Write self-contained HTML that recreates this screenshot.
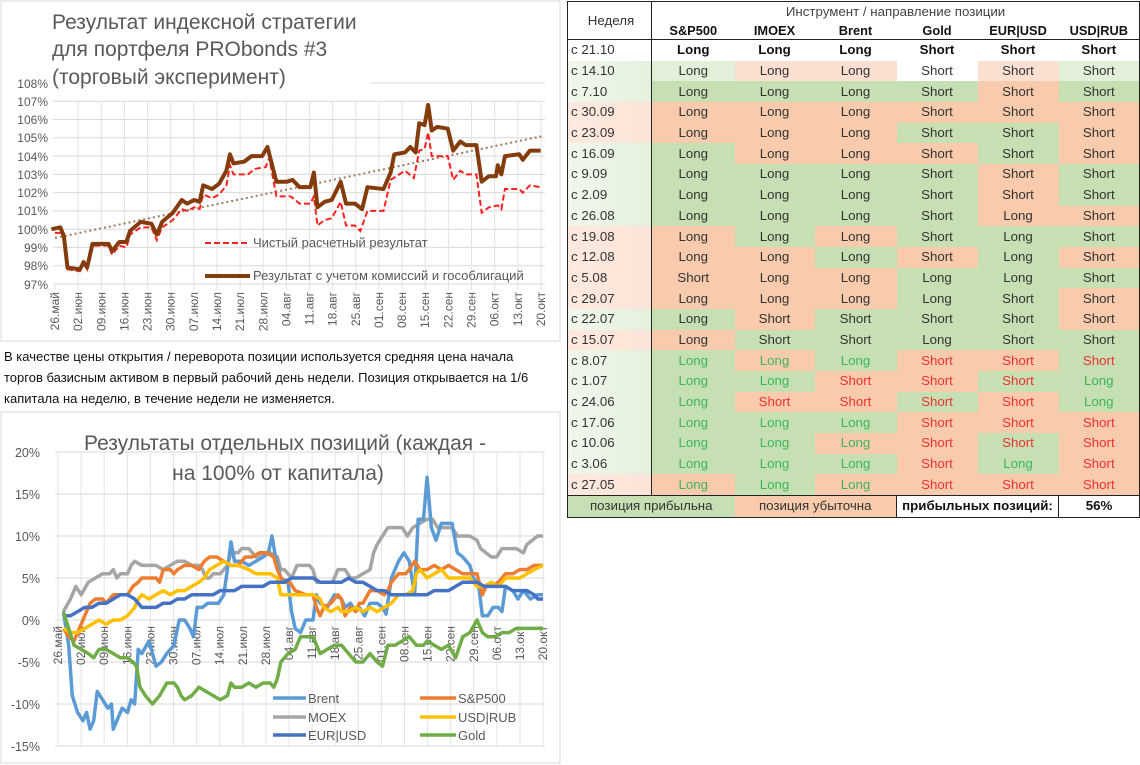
<!DOCTYPE html>
<html><head><meta charset="utf-8">
<style>
body{margin:0;background:#fff;width:1140px;height:765px;overflow:hidden;position:relative;font-family:"Liberation Sans","DejaVu Sans",sans-serif;}
svg{position:absolute;left:0;top:0}
.p{position:absolute;left:4px;font-size:13px;color:#111;line-height:21px;top:346px;width:540px}
table{position:absolute;left:567px;top:1px;border-collapse:collapse;font-size:13.3px;color:#333;width:572px;table-layout:fixed}
td{height:20.7px;padding:0;text-align:center;line-height:18px}
td.w{text-align:left;padding-left:3px;border-left:1.5px solid #222;border-right:1.5px solid #222}
.G{background:#c6e0b4}.R{background:#f8cbad}.g{background:#e2efd9}.r{background:#fbe0d2}
.tg{color:#3cb65a}.tr{color:#f03030}
th{font-weight:bold;font-size:12.8px;padding:0;height:18px;color:#111}
</style></head><body>
<svg width="1140" height="765" xmlns="http://www.w3.org/2000/svg" font-family="Liberation Sans, sans-serif">
<rect x="1" y="1" width="559" height="340" fill="none" stroke="#d9d9d9"/>
<rect x="1" y="412" width="559" height="351" fill="none" stroke="#d9d9d9"/>
<g stroke="#d9d9d9" stroke-width="1">
<line x1="371" y1="83" x2="545" y2="83"/>
<line x1="53" y1="101.3" x2="545" y2="101.3"/><line x1="53" y1="119.5" x2="545" y2="119.5"/>
<line x1="53" y1="137.8" x2="545" y2="137.8"/><line x1="53" y1="156.1" x2="545" y2="156.1"/>
<line x1="53" y1="174.4" x2="545" y2="174.4"/><line x1="53" y1="192.6" x2="545" y2="192.6"/>
<line x1="53" y1="210.9" x2="545" y2="210.9"/><line x1="53" y1="229.2" x2="545" y2="229.2"/>
<line x1="53" y1="247.4" x2="545" y2="247.4"/><line x1="53" y1="265.7" x2="545" y2="265.7"/>
<line x1="53" y1="284" x2="545" y2="284"/>
</g>
<g stroke="#e3e3e3" id="vg1"></g>
<g font-size="21" fill="#595959">
<text x="52" y="29">Результат индексной стратегии</text>
<text x="52" y="56">для портфеля PRObonds #3</text>
<text x="52" y="84">(торговый эксперимент)</text>
</g>
<g font-size="12" fill="#595959" text-anchor="end">
<text x="48" y="88">108%</text><text x="48" y="106">107%</text><text x="48" y="124">106%</text><text x="48" y="142">105%</text><text x="48" y="161">104%</text><text x="48" y="179">103%</text><text x="48" y="197">102%</text><text x="48" y="215">101%</text><text x="48" y="234">100%</text><text x="48" y="252">99%</text><text x="48" y="270">98%</text><text x="48" y="289">97%</text>
</g>
<g id="xl1" font-size="12" fill="#595959" text-anchor="end"></g>
<line x1="55" y1="238" x2="543" y2="136" stroke="#a0785a" stroke-width="2" stroke-dasharray="2,3"/>
<g transform="translate(-2.14,2056.2) scale(0.3571,-18.27)" fill="none">
<polyline vector-effect="non-scaling-stroke" stroke="#ff2020" stroke-width="2" stroke-dasharray="6,3" points="160,99.8 185,99.8 195,97.8 230,97.7 240,98.1 250,97.8 265,99.1 310,99.1 320,98.6 340,99.1 360,99.0 370,99.7 400,100.1 430,100.1 445,99.4 460,100.1 490,100.5 515,101.1 530,101.0 550,101.2 565,101.1 575,101.9 600,101.7 620,101.9 640,102.4 650,103.5 660,103.0 700,103.0 720,103.3 750,103.4 760,103.9 780,101.8 820,101.8 845,101.4 875,101.4 885,101.8 895,100.2 915,100.5 935,100.6 960,101.5 975,100.2 1000,100.2 1015,99.9 1035,101.0 1080,101.0 1100,102.7 1140,103.2 1165,102.8 1180,104.3 1195,104.4 1205,105.3 1215,104.0 1260,104.0 1275,102.7 1295,103.2 1310,103.0 1340,103.0 1355,100.9 1375,101.2 1400,101.3 1410,101.1 1420,102.2 1460,102.2 1470,102.0 1490,102.4 1520,102.3"/>
<polyline vector-effect="non-scaling-stroke" stroke="#843c0c" stroke-width="4" stroke-linejoin="round" points="150,100.0 175,100.1 185,99.6 195,97.9 230,97.8 240,98.2 250,97.9 265,99.2 310,99.2 320,98.8 340,99.3 360,99.3 370,99.9 400,100.4 430,100.3 445,99.7 460,100.4 490,100.9 515,101.6 530,101.4 550,101.6 565,101.5 575,102.4 600,102.2 620,102.5 640,103.2 650,104.1 660,103.6 690,103.7 710,104.0 740,104.0 755,104.5 780,102.6 810,102.6 825,102.7 845,102.3 875,102.3 885,103.1 895,101.2 915,101.5 935,101.6 960,102.6 975,101.4 1000,101.4 1020,101.1 1035,102.3 1080,102.2 1100,103.1 1110,104.1 1140,104.2 1155,104.5 1170,104.2 1180,105.8 1195,105.7 1205,106.8 1215,105.4 1230,105.6 1260,105.5 1275,104.3 1295,104.8 1310,104.6 1340,104.6 1355,102.6 1375,102.9 1395,102.9 1400,103.5 1410,103.0 1420,104.0 1460,104.1 1470,103.8 1490,104.3 1520,104.3"/>
</g>
<line x1="205" y1="243" x2="250" y2="243" stroke="#ff2020" stroke-width="2" stroke-dasharray="6,3"/>
<text x="253" y="247" font-size="13" fill="#595959">Чистый расчетный результат</text>
<line x1="205" y1="276" x2="250" y2="276" stroke="#843c0c" stroke-width="4"/>
<text x="253" y="280" font-size="13" fill="#595959">Результат с учетом комиссий и гособлигаций</text>

<g stroke="#d9d9d9">
<line x1="55" y1="452" x2="545" y2="452"/><line x1="55" y1="494" x2="545" y2="494"/><line x1="55" y1="536" x2="545" y2="536"/><line x1="55" y1="578" x2="545" y2="578"/><line x1="55" y1="620" x2="545" y2="620"/><line x1="55" y1="662" x2="545" y2="662"/><line x1="55" y1="704" x2="545" y2="704"/><line x1="55" y1="746" x2="545" y2="746"/>
</g>
<g stroke="#e3e3e3" id="vg2"></g>
<g font-size="21" fill="#595959" text-anchor="middle">
<text x="285" y="450">Результаты отдельных позиций (каждая -</text>
<text x="278" y="480">на 100% от капитала)</text>
</g>
<g font-size="12.5" fill="#595959" text-anchor="end">
<text x="40" y="457">20%</text><text x="40" y="499">15%</text><text x="40" y="541">10%</text><text x="40" y="583">5%</text><text x="40" y="625">0%</text><text x="40" y="667">-5%</text><text x="40" y="709">-10%</text><text x="40" y="751">-15%</text>
</g>
<g id="xl2" font-size="12" fill="#595959" text-anchor="end"></g>
<g transform="translate(-0.84,620) scale(0.3566,-8.4)" fill="none" stroke-width="3.5" stroke-linejoin="round">
<polyline vector-effect="non-scaling-stroke" stroke="#a5a5a5" points="180,1 200,2.5 215,4 230,3 250,4.5 270,5 290,5.5 310,5.5 320,6 330,5 340,5.5 360,5.5 370,6.5 380,7 400,6.5 420,6.5 440,6.5 460,6 480,6.5 500,7 520,7 540,6.5 560,6.5 570,6 580,5 590,5 600,5.5 620,5.5 640,6.5 650,8 670,8 680,8.5 700,8.5 710,8 720,7.5 740,8 760,8 780,7.5 790,6 800,6 810,5.5 820,5 835,6.5 850,6.5 870,6.5 880,6 890,4.5 900,4.5 920,4.5 935,4.5 950,6 970,6 985,5 1000,5 1020,5.5 1040,6 1050,8 1060,9 1075,10 1090,11 1110,11 1130,11 1145,10 1160,11 1180,11.5 1200,12 1215,12 1230,11 1250,11 1270,11 1285,10 1300,10 1320,10 1340,9.5 1350,8.5 1365,8 1380,7.5 1395,7.5 1410,8.5 1430,8.5 1450,8.5 1470,8 1480,9 1495,9.5 1510,10 1525,10"/>
<polyline vector-effect="non-scaling-stroke" stroke="#5b9bd5" points="180,1 195,-3 205,-9 220,-11 235,-12 245,-11 255,-13 265,-12 275,-8.5 290,-9.5 305,-10.5 315,-10 320,-13 335,-11.5 345,-10.5 360,-11 370,-9.5 380,-10 390,-3.5 400,-4 420,-2.5 440,-5.5 455,-5 470,-4 490,-3 505,0 520,0 535,-1 545,-2 555,1.5 570,1.5 585,2 615,2 630,3 640,6 650,9.3 660,7 680,7 700,6.5 720,7 740,7.5 755,8 765,10 775,7.5 790,5 810,4.5 820,1 830,-1 845,-1.5 860,0 880,0 890,3 900,2 920,1.5 940,3 960,2.5 970,1.5 985,2 1000,1 1010,1.5 1025,0.5 1040,2 1060,2 1075,1.5 1085,0.7 1100,5 1120,7 1135,8 1150,7 1165,3 1175,12 1190,12 1200,17 1212,11 1225,9.5 1240,11.5 1270,11.5 1285,8 1300,7.5 1320,6.5 1330,5 1345,4 1355,0.5 1370,0.5 1385,1.5 1400,1.5 1410,1 1420,4 1440,3.5 1455,2.5 1470,3.5 1490,2.5 1510,3 1525,3"/>
<polyline vector-effect="non-scaling-stroke" stroke="#ed7d31" points="180,-1 195,-2 210,-2.5 225,-1 240,0.5 255,2 270,2.5 290,2.5 300,2 320,3 360,3 375,4 390,4.5 400,5 440,5 450,4.5 460,6 480,6 490,5.5 500,6 520,6.5 540,6.5 560,6 575,7 590,7.5 610,7.5 630,7 650,6.5 670,6.5 690,7.5 710,7.5 730,8 750,8 770,7.5 780,6 790,5 800,4.5 815,4.5 830,3.5 860,3 880,3 890,1.5 900,0.5 910,1.5 930,2 950,3 960,2.5 970,0.5 985,1.5 1000,1 1010,2 1020,2 1040,3.5 1060,3.5 1080,3 1090,3.5 1100,4.5 1120,5.5 1140,5.5 1150,6 1165,7 1180,6 1200,6 1220,6.5 1240,6 1260,6.5 1280,6 1300,5.5 1340,5.5 1355,3 1365,4 1380,4 1400,4.5 1420,5.5 1440,5.5 1460,6 1480,6 1500,6.5 1525,6.5"/>
<polyline vector-effect="non-scaling-stroke" stroke="#ffc000" points="180,-1 200,-1.5 220,-1.5 240,-1 260,-0.5 280,0 300,-0.5 320,0 340,0 360,0.5 370,1 380,1.5 390,2.5 400,3 420,2.5 440,3 460,3.5 480,3 500,3.5 520,3.5 540,4 560,4.5 575,5 590,6 610,6.5 630,7 650,6.5 670,6.5 700,6 720,5.5 760,5.5 780,5 790,3 880,3 900,2.5 910,1.5 930,1 950,1.5 960,1 980,1 1000,1.5 1020,1 1040,1.5 1060,1 1080,1.5 1100,2 1120,3 1140,3 1160,3.5 1170,5.5 1180,6 1200,5 1220,5.5 1240,6 1260,5 1320,5 1340,4 1360,4 1380,4.5 1400,4 1420,5 1460,5 1480,5.5 1500,6 1525,6.5"/>
<polyline vector-effect="non-scaling-stroke" stroke="#4472c4" points="180,0.5 200,0.5 220,1 240,1.5 260,1.5 280,2 300,2 320,2.5 340,3 360,3 380,2.5 400,1.5 440,1.5 460,2 480,2 500,2.5 520,2.5 540,3 600,3 620,3.5 660,3.5 680,4 740,4 760,4.5 800,4.5 820,5 880,5 900,4.5 960,4.5 980,5 1000,4.5 1020,4.5 1040,4 1060,3.5 1080,3.5 1100,3 1200,3 1220,3.5 1260,3.5 1280,4 1300,4.5 1340,4.5 1360,4 1420,4 1440,3.5 1480,3.5 1500,3 1510,2.5 1525,2.5"/>
<polyline vector-effect="non-scaling-stroke" stroke="#70ad47" points="180,1 195,-1 210,-3 230,-3.5 250,-4 265,-4.5 280,-3.5 300,-3.5 320,-4 340,-4.5 360,-4.5 375,-5 385,-5.5 395,-8 410,-9 430,-10 450,-9 470,-7.5 490,-7.5 500,-8 510,-9 520,-9.5 540,-9 560,-8 580,-8.5 600,-9 620,-9.5 640,-9 650,-7.5 660,-8 680,-8 700,-7.5 720,-8 740,-7.5 760,-7.5 770,-8 780,-7 790,-5 800,-4.5 810,-4 830,-3.5 845,-2 880,-2 900,-4 920,-3.5 940,-3 960,-3 980,-4 1000,-5 1020,-5 1040,-4 1060,-5 1075,-5.5 1090,-3 1110,-3 1130,-2.5 1150,-2 1170,-3 1190,-3 1200,-2.5 1220,-3 1240,-3.5 1260,-3 1280,-4.5 1300,-2 1320,-1.5 1340,0 1355,-1.5 1370,-2 1390,-2 1410,-1.5 1430,-1.5 1450,-1 1525,-1"/>
</g>
<g stroke-width="3.5">
<line x1="273" y1="698" x2="306" y2="698" stroke="#5b9bd5"/><line x1="420" y1="698" x2="456" y2="698" stroke="#ed7d31"/>
<line x1="273" y1="717" x2="306" y2="717" stroke="#a5a5a5"/><line x1="420" y1="717" x2="456" y2="717" stroke="#ffc000"/>
<line x1="273" y1="735" x2="306" y2="735" stroke="#4472c4"/><line x1="420" y1="735" x2="456" y2="735" stroke="#70ad47"/>
</g>
<g font-size="13" fill="#595959">
<text x="308" y="703">Brent</text><text x="458" y="703">S&amp;P500</text>
<text x="308" y="722">MOEX</text><text x="458" y="722">USD|RUB</text>
<text x="308" y="740">EUR|USD</text><text x="458" y="740">Gold</text>
</g>
</svg>
<div class="p">В качестве цены открытия / переворота позиции используется средняя цена начала торгов базисным активом в первый рабочий день недели. Позиция открывается на 1/6 капитала на неделю, в течение недели не изменяется.</div>
<table>
<colgroup><col style="width:84px"><col style="width:83px"><col style="width:80px"><col style="width:82px"><col style="width:81px"><col style="width:81px"><col style="width:81px"></colgroup>
<tr><td class="w" rowspan="2" style="border-top:1.5px solid #222;vertical-align:top;text-align:center;padding-top:10px;color:#333">Неделя</td><td colspan="6" style="border-top:1.5px solid #222;border-right:1.5px solid #222;color:#444;height:19px">Инструмент / направление позиции</td></tr>
<tr><th>S&amp;P500</th><th>IMOEX</th><th>Brent</th><th>Gold</th><th>EUR|USD</th><th style="border-right:1.5px solid #222">USD|RUB</th></tr>
<tbody id="tb"></tbody>
</table>
<script>
var rows=[["с 21.10","WWWWWW","LLLSSS"],["с 14.10","grrWrg","LLLSSS"],["с 7.10","GGGGRG","LLLSSS"],["с 30.09","RRRRRR","LLLSSS"],["с 23.09","RRRGGR","LLLSSS"],["с 16.09","GRRRGR","LLLSSS"],["с 9.09","GGGGRG","LLLSSS"],["с 2.09","GGGGRG","LLLSSS"],["с 26.08","GGGGRR","LLLSLS"],["с 19.08","RGRGGG","LLLSLS"],["с 12.08","RRGRGR","LLLSLS"],["с 5.08","RRRGGG","SLLLLS"],["с 29.07","RRRGGR","LLLLSS"],["с 22.07","GRGGGR","LSSSSS"],["с 15.07","RGGGGG","LSSLSS"],["с 8.07","GRGRRG","LLLSSS"],["с 1.07","GGRRGG","LLSSSL"],["с 24.06","GRRGRG","LSSSSL"],["с 17.06","GGGRRR","LLLSSS"],["с 10.06","GGRRGR","LLLSSS"],["с 3.06","GGGRGR","LLLSLS"],["с 27.05","RGRRRR","LLLSSS"]];
var h="";
rows.forEach(function(r,i){
 var wc=i==0?"#fff":(r[1][0]=="G"||r[1][0]=="g"?"linear-gradient(90deg,#f0f7ec,#e4f1dc)":"linear-gradient(90deg,#fde9df,#fbe4d7)");
 var st=i==0?"border-top:1.5px solid #222;":"";
 h+='<tr><td class="w" style="'+st+'background:'+wc+'">'+r[0]+'</td>';
 for(var j=0;j<6;j++){var c=r[1][j],t=r[2][j]=="L"?"Long":"Short";
  var cls=c=="W"?"":c;var tc="";
  if(i>=15){tc=t=="Long"?" tg":" tr";}
  var s=st+(i==0?"font-weight:bold;color:#111;":"")+(j==5?"border-right:1.5px solid #222;":"");
  h+='<td class="'+cls+tc+'" style="'+s+'">'+t+'</td>';}
 h+='</tr>';});
h+='<tr><td colspan="2" class="G" style="border:1.5px solid #222;border-right:none;height:18px">позиция прибыльна</td><td colspan="2" class="R" style="border-top:1.5px solid #222;border-bottom:1.5px solid #222">позиция убыточна</td><td colspan="2" style="border:1.5px solid #222;font-weight:bold;color:#111">прибыльных позиций:</td><td style="border:1.5px solid #222;border-left:none;font-weight:bold;color:#111">56%</td></tr>';
document.getElementById("tb").innerHTML=h;
var L=["26.май","02.июн","09.июн","16.июн","23.июн","30.июн","07.июл","14.июл","21.июл","28.июл","04.авг","11.авг","18.авг","25.авг","01.сен","08.сен","15.сен","22.сен","29.сен","06.окт","13.окт","20.окт"];
var NS="http://www.w3.org/2000/svg";
function mk(g,tag,a,txt){var e=document.createElementNS(NS,tag);for(var k in a)e.setAttribute(k,a[k]);if(txt)e.textContent=txt;g.appendChild(e);}
var v1=document.getElementById("vg1"),x1=document.getElementById("xl1"),v2=document.getElementById("vg2"),x2=document.getElementById("xl2");
for(var i=0;i<22;i++){var x=55+23.14*i;mk(v1,"line",{x1:x,y1:i==0?284:101,x2:x,y2:290});
 mk(x1,"text",{transform:"translate("+(x+4)+",292) rotate(-90)"},L[i]);
 var xb=58+23.1*i;mk(v2,"line",{x1:xb,y1:452,x2:xb,y2:746});
 mk(x2,"text",{transform:"translate("+(xb+4)+",626) rotate(-90)"},L[i]);}
</script>
</body></html>
